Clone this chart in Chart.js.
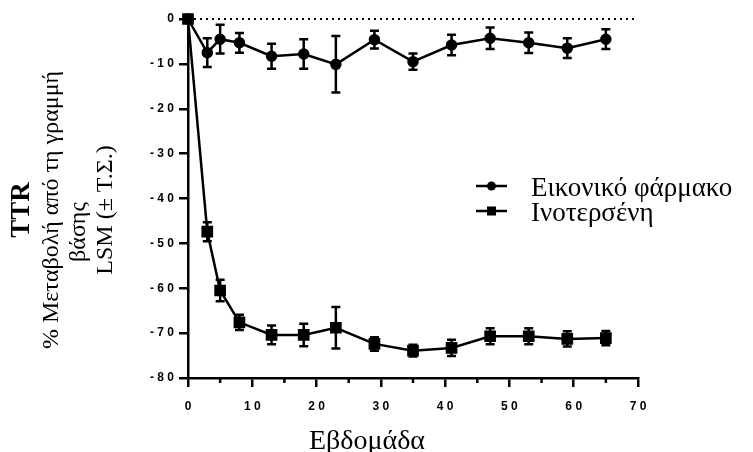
<!DOCTYPE html>
<html lang="el">
<head>
    <meta charset="UTF-8">
    <title>TTR - % Μεταβολή από τη γραμμή βάσης</title>
    <script src="https://cdn.jsdelivr.net/npm/chart.js@4.4.1/dist/chart.umd.min.js"></script>
    <style>
        html, body { margin: 0; padding: 0; background: #fff; }
        #wrap { width: 753px; height: 452px; }
    </style>
</head>
<body>
    <div id="wrap"><canvas id="ttrChart" width="753" height="452"></canvas></div>

    <script>
        // weeks on the x axis
        const weeks = [0, 3, 5, 8, 13, 18, 23, 29, 35, 41, 47, 53, 59, 65];

        // placebo (circles): LSM and standard error
        const placeboMean = [0, -7.5, -4.5, -5.3, -8.3, -7.8, -10.1, -4.6, -9.5, -5.8, -4.3, -5.3, -6.5, -4.5];
        const placeboSE   = [0, 3.2, 3.2, 2.2, 2.8, 3.3, 6.3, 2.0, 1.8, 2.3, 2.4, 2.3, 2.2, 2.2];

        // inotersen (squares): LSM and standard error
        const inoMean = [0, -47.4, -60.5, -67.6, -70.4, -70.4, -68.8, -72.4, -73.9, -73.3, -70.7, -70.7, -71.3, -71.1];
        const inoSE   = [0, 2.1, 2.4, 1.7, 2.1, 2.5, 4.6, 1.5, 1.3, 1.8, 1.8, 1.8, 1.7, 1.6];

        const seriesNames = ['Εικονικό φάρμακο', 'Ινοτερσένη'];
        const xTitle = 'Εβδομάδα';
        const yTitleLines = ['TTR', '% Μεταβολή από τη γραμμή', 'βάσης', 'LSM (± Τ.Σ.)'];

        const xRange = [0, 70];
        const yRange = [-80, 0];

        const serif = "'Liberation Serif', 'Times New Roman', serif";
        const sans = "'Liberation Sans', Arial, sans-serif";

        // "-10" -> "- 1 0" like the original figure
        const spaced = v => String(v).split('').join(' ');

        const toPoints = (xs, ys) => xs.map((x, i) => ({ x: x, y: ys[i] }));

        // error bars from the SE arrays, placed with the chart's own scales
        const errorBars = {
            id: 'errorBars',
            afterDatasetsDraw(chart) {
                const ctx = chart.ctx;
                const xs = chart.scales.x, ys = chart.scales.y;
                ctx.save();
                ctx.strokeStyle = '#000';
                ctx.lineWidth = 2.5;
                chart.data.datasets.forEach(ds => {
                    if (!ds.se) return;
                    ds.data.forEach((p, i) => {
                        const se = ds.se[i];
                        if (!se) return;
                        const px = xs.getPixelForValue(p.x);
                        const top = ys.getPixelForValue(p.y + se);
                        const bot = ys.getPixelForValue(p.y - se);
                        ctx.beginPath();
                        ctx.moveTo(px, top); ctx.lineTo(px, bot);
                        ctx.moveTo(px - 4.5, top); ctx.lineTo(px + 4.5, top);
                        ctx.moveTo(px - 4.5, bot); ctx.lineTo(px + 4.5, bot);
                        ctx.stroke();
                    });
                });
                ctx.restore();
            }
        };

        // short minor ticks at 5, 15, 25 ...
        const minorTicks = {
            id: 'minorTicks',
            afterDraw(chart) {
                const ctx = chart.ctx;
                const xs = chart.scales.x;
                const y0 = chart.chartArea.bottom;
                ctx.save();
                ctx.strokeStyle = '#000';
                ctx.lineWidth = 2.5;
                for (let v = 5; v < xRange[1]; v += 10) {
                    const px = xs.getPixelForValue(v);
                    ctx.beginPath();
                    ctx.moveTo(px, y0);
                    ctx.lineTo(px, y0 + 5);
                    ctx.stroke();
                }
                ctx.restore();
            }
        };

        // axis titles and legend
        const labels = {
            id: 'labels',
            afterDraw(chart) {
                const ctx = chart.ctx;
                ctx.save();
                ctx.fillStyle = '#000';

                // x title
                ctx.font = '28px ' + serif;
                ctx.textAlign = 'center';
                ctx.textBaseline = 'alphabetic';
                ctx.fillText(xTitle, 367, 449);

                // y title, rotated
                const rows = [
                    { x: 22, y: 210, font: 'bold 27px ' + serif },
                    { x: 52, y: 210, font: '24px ' + serif },
                    { x: 79, y: 232, font: '24px ' + serif },
                    { x: 106, y: 210, font: '24px ' + serif }
                ];
                ctx.textBaseline = 'middle';
                yTitleLines.forEach((t, i) => {
                    const r = rows[i];
                    ctx.save();
                    ctx.translate(r.x, r.y);
                    ctx.rotate(-Math.PI / 2);
                    ctx.font = r.font;
                    ctx.fillText(t, 0, 0);
                    ctx.restore();
                });

                // legend
                ctx.textAlign = 'left';
                ctx.textBaseline = 'alphabetic';
                ctx.font = '27px ' + serif;
                ctx.strokeStyle = '#000';
                ctx.lineWidth = 2.5;
                seriesNames.forEach((name, i) => {
                    const ly = 186 + i * 25;
                    ctx.beginPath();
                    ctx.moveTo(476, ly); ctx.lineTo(507, ly);
                    ctx.stroke();
                    ctx.beginPath();
                    if (i === 0) {
                        ctx.arc(491.5, ly, 4.5, 0, Math.PI * 2);
                    } else {
                        ctx.rect(487, ly - 4.5, 9, 9);
                    }
                    ctx.fill();
                    ctx.fillText(name, 531, ly + 10);
                });
                ctx.restore();
            }
        };

        const ctx = document.getElementById('ttrChart').getContext('2d');
        const ttrChart = new Chart(ctx, {
            type: 'line',
            data: {
                datasets: [
                    {
                        label: seriesNames[0],
                        data: toPoints(weeks, placeboMean),
                        se: placeboSE,
                        borderColor: '#000',
                        backgroundColor: '#000',
                        borderWidth: 2.5,
                        pointStyle: 'circle',
                        pointRadius: 4.5,
                        pointHoverRadius: 4.5,
                        clip: false
                    },
                    {
                        label: seriesNames[1],
                        data: toPoints(weeks, inoMean),
                        se: inoSE,
                        borderColor: '#000',
                        backgroundColor: '#000',
                        borderWidth: 2.5,
                        pointStyle: 'rect',
                        pointRadius: 6.5,
                        pointHoverRadius: 6.5,
                        clip: false
                    },
                    {
                        // dotted baseline at 0
                        label: 'baseline',
                        data: toPoints(xRange, [0, 0]),
                        borderColor: '#000',
                        borderWidth: 2,
                        borderDash: [2, 4],
                        pointRadius: 0,
                        clip: false
                    }
                ]
            },
            options: {
                responsive: false,
                animation: false,
                devicePixelRatio: 1,
                layout: { padding: { left: 0, right: 115, top: 19, bottom: 0 } },
                plugins: {
                    legend: { display: false },
                    tooltip: { enabled: false }
                },
                scales: {
                    x: {
                        type: 'linear',
                        min: xRange[0],
                        max: xRange[1],
                        afterFit(scale) { scale.height = 74; },
                        border: { display: true, color: '#000', width: 2.5 },
                        grid: {
                            drawOnChartArea: false,
                            drawTicks: true,
                            tickLength: 9,
                            lineWidth: 2.5,
                            color: '#000'
                        },
                        ticks: {
                            stepSize: 10,
                            padding: 12,
                            color: '#000',
                            maxRotation: 0,
                            font: { family: sans, size: 12, weight: 'bold' },
                            callback: v => spaced(v)
                        }
                    },
                    y: {
                        min: yRange[0],
                        max: yRange[1],
                        afterFit(scale) { scale.width = 188; },
                        border: { display: true, color: '#000', width: 2.5 },
                        grid: {
                            drawOnChartArea: false,
                            drawTicks: true,
                            tickLength: 9,
                            lineWidth: 2.5,
                            color: '#000'
                        },
                        ticks: {
                            stepSize: 10,
                            padding: 5,
                            color: '#000',
                            font: { family: sans, size: 12, weight: 'bold' },
                            callback: v => spaced(v)
                        }
                    }
                }
            },
            plugins: [errorBars, minorTicks, labels]
        });
    </script>
</body>
</html>
